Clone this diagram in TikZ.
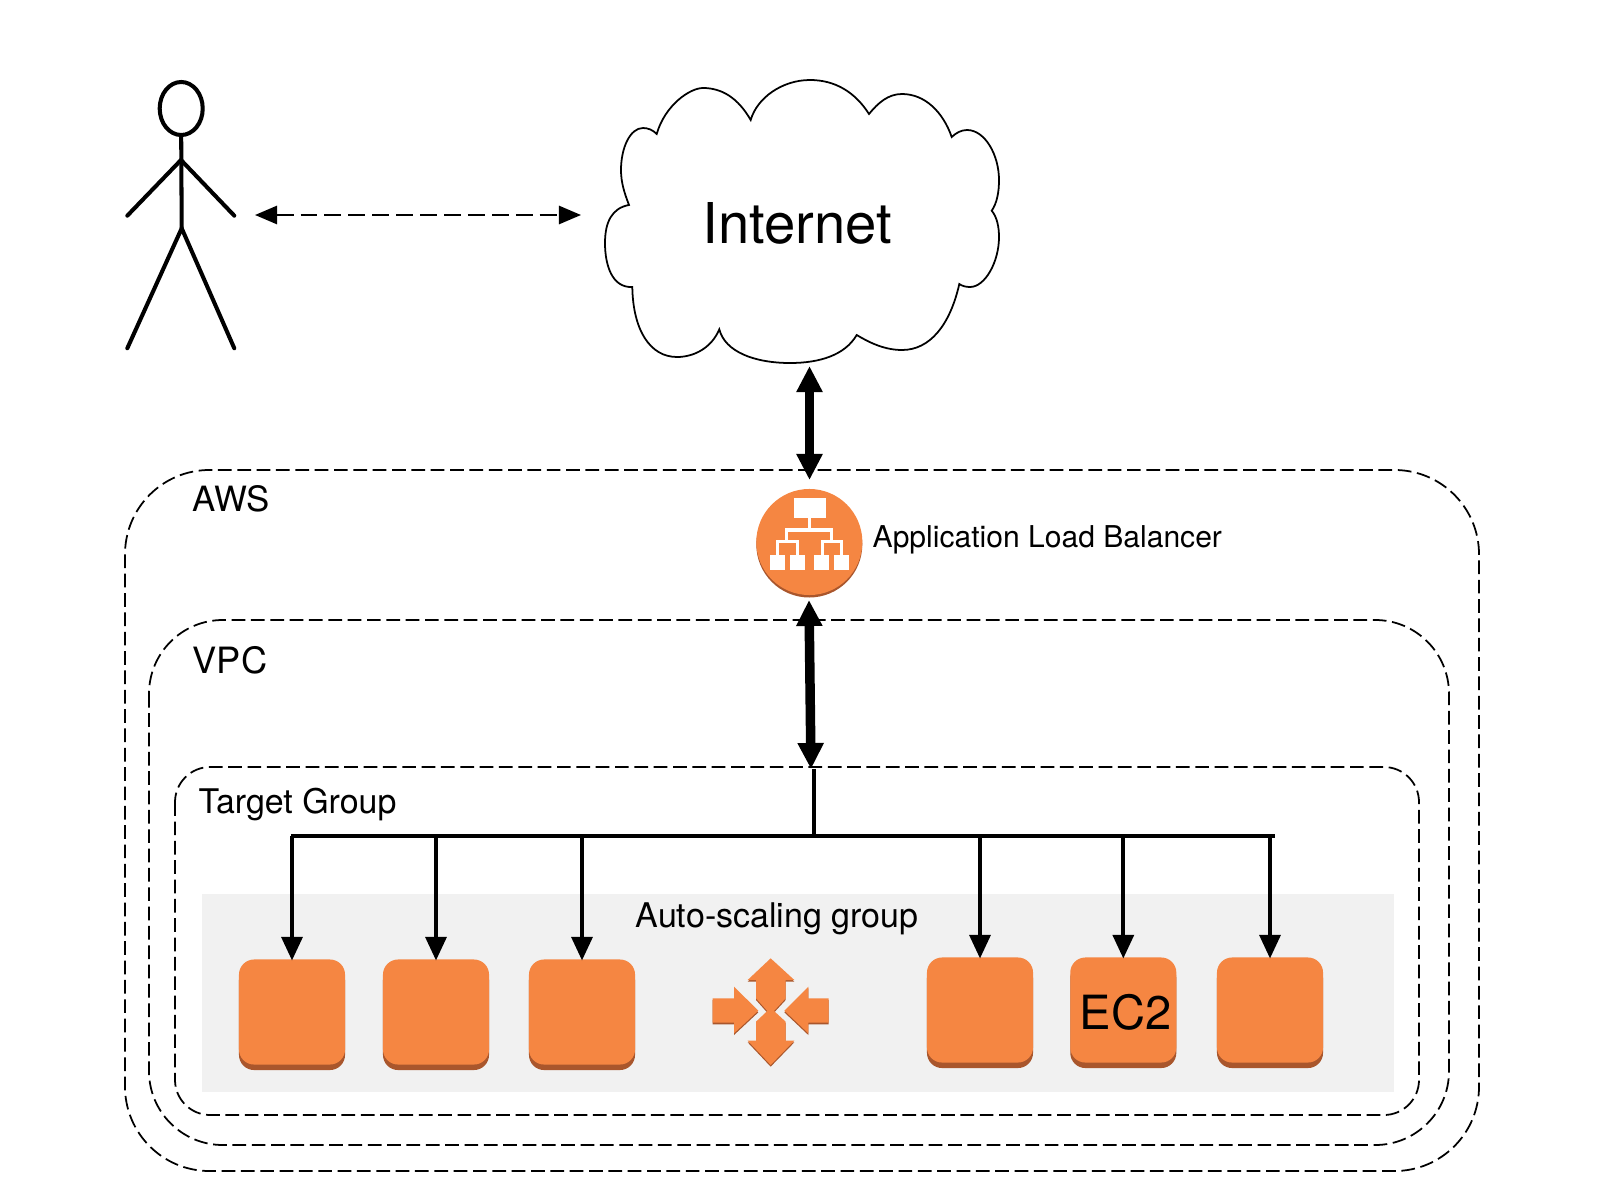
\documentclass[tikz,border=0pt]{standalone}
\usepackage{fontspec}
\setmainfont{TeX Gyre Heros}
\usetikzlibrary{arrows.meta,shadows,shapes.geometric}

\definecolor{ec2_orange}{HTML}{F58642}
\definecolor{ec2_dark}{HTML}{A9562C}
\definecolor{asg_grey}{HTML}{F1F1F1}

\newcommand{\asgarrows}{
  (242,55) -- (313,120) -- (287,120) -- (287,175) -- (252,213) -- (232,213) -- (198,175) -- (198,120) -- (173,120) -- cycle
  (242,375) -- (313,302) -- (287,302) -- (287,245) -- (252,213) -- (232,213) -- (198,245) -- (198,302) -- (173,302) -- cycle
  (68,175) -- (132,175) -- (132,140) -- (205,212) -- (132,280) -- (132,248) -- (68,248) -- cycle
  (416,175) -- (355,175) -- (355,140) -- (283,212) -- (355,280) -- (355,248) -- (416,248) -- cycle
}

\begin{document}
\begin{tikzpicture}[x=0.01cm, y=-0.01cm]
        \tikzstyle{dash_box}  = [draw = black, line width=0.5pt, dash pattern=on 3.9pt off 1.6pt]
        \tikzstyle{ec2_box}   = [shape = rectangle, rounded corners=4.3pt, fill = ec2_orange, minimum width=1.06cm, minimum height=1.05cm, inner sep=0pt, general shadow={fill=ec2_dark, shadow yshift=-0.055cm, shadow xshift=0cm}]
        \tikzstyle{big_arrow} = [line width=2.7pt, {Triangle[length=7.4pt, width=7pt]}-{Triangle[length=7.4pt, width=7pt]}]
        \tikzstyle{add_arrow} = [line width=1.1pt, shorten >=-0.5pt, -{Triangle[length=6.7pt, width=5.9pt]}]
        \tikzstyle{person}    = [line width=1.15pt, line cap=round]
        \tikzstyle{label_txt} = [inner sep=0pt, anchor=base west, font=\fontsize{9.9pt}{11pt}\selectfont]

        \useasboundingbox (0,0) rectangle (1600,1200);

        % outer boxes
        \draw[dash_box, rounded corners=24pt] (125,470) rectangle (1479,1171);
        \draw[dash_box, rounded corners=21pt] (149,620) rectangle (1449,1145);
        \draw[dash_box, rounded corners=10pt] (175,767) rectangle (1419,1115);
        \fill[asg_grey] (202,894) rectangle (1394,1092);

        \node[label_txt] at (192,511) (aws_txt) {AWS};
        \node[label_txt, font=\fontsize{10.3pt}{12pt}\selectfont] at (192,673) (vpc_txt) {VPC};
        \node[label_txt, font=\fontsize{9.65pt}{11pt}\selectfont] at (198,813) (tg_txt) {Target Group};
        \node[label_txt, font=\fontsize{9.67pt}{11pt}\selectfont] at (635,927) (asg_txt) {Auto-scaling group};
        \node[label_txt, font=\fontsize{8.55pt}{10pt}\selectfont] at (872,547) (alb_txt) {Application Load Balancer};

        % person
        \node[draw, ellipse, fill=white, line width=1.15pt, minimum width=0.43cm, minimum height=0.53cm, inner sep=0pt, drop shadow={opacity=0.2, shadow xshift=0.02cm, shadow yshift=-0.015cm}] at (181.2,108.5) (head) {};
        \coordinate (neck) at (181,160);
        \coordinate (hip) at (181.7,228.3);
        \draw[person] (head.south) -- (hip);
        \draw[person] (127.3,215.7) -- (neck) -- (234.3,215.7);
        \draw[person] (127.3,348.3) -- (hip) -- (234.3,348.3);

        % cloud
        \draw[line width=0.5pt, fill=white]
          (656.7,134) .. controls (665,105) and (690,88) .. (703,88) .. controls (722,88) and (738,98) .. (750.7,120)
          .. controls (757,98) and (782,80) .. (810,80) .. controls (835,80) and (855,92) .. (869,114)
          .. controls (878,103) and (888,94) .. (902,94) .. controls (925,94) and (943,112) .. (951.7,137)
          .. controls (956,133) and (961,130) .. (967,130) .. controls (985,130) and (999,155) .. (999,180) .. controls (999,192) and (997,203) .. (991.7,210.7)
          .. controls (997,217) and (999,227) .. (999,237) .. controls (999,262) and (985,287) .. (970,287) .. controls (966,287) and (962,286) .. (959.3,284)
          .. controls (950,325) and (930,350) .. (902,350) .. controls (885,350) and (870,343) .. (856.7,335)
          .. controls (845,355) and (820,363) .. (790,363) .. controls (755,363) and (725,352) .. (719.3,329.3)
          .. controls (712,347) and (695,357) .. (677,357) .. controls (650,357) and (633,330) .. (632.3,287)
          .. controls (612,288) and (605,265) .. (605,243) .. controls (605,222) and (612,208) .. (629,205)
          .. controls (624,192) and (621,182) .. (621,170) .. controls (621,148) and (630,128) .. (643,128) .. controls (648,128) and (653,130) .. (656.7,134)
          -- cycle;
        \node[label_txt, font=\fontsize{16pt}{18pt}\selectfont] at (702,243) (internet) {Internet};

        % load balancer
        \fill[ec2_dark] (809.3,544.5) circle (53);
        \node[circle, fill=ec2_orange, minimum size=1.06cm, inner sep=0pt] at (809.3,542) (alb) {};
        \begin{scope}[shift={(720,470)}, xscale=0.3333, yscale=0.3333]
          \draw[white, line width=0.9pt]
            (268,145) -- (268,180)
            (200,212) -- (200,180) -- (335,180) -- (335,212)
            (173,255) -- (173,215) -- (232,215) -- (232,255)
            (308,255) -- (308,215) -- (365,215) -- (365,255)
          ;
          \fill[white] (222,85) rectangle (318,145);
          \foreach \lx in {150,210,282,342}
            \fill[white] (\lx,255) rectangle (\lx+46,300);
        \end{scope}

        % auto scaling icon
        \begin{scope}[shift={(690,940)}, xscale=0.3333, yscale=0.3333]
          \fill[ec2_dark] [yshift=-0.05cm] \asgarrows;
          \fill[ec2_orange] \asgarrows;
        \end{scope}

        % instances
        \node[ec2_box] at (292,1012) (i1) {};
        \node[ec2_box] at (436,1012) (i2) {};
        \node[ec2_box] at (582,1012) (i3) {};
        \node[ec2_box] at (980,1010) (i4) {};
        \node[ec2_box] at (1123.3,1010) (i5) {};
        \node[ec2_box] at (1270,1010) (i6) {};
        \node[label_txt, font=\fontsize{13.4pt}{15pt}\selectfont] at (1079,1029) (ec2_txt) {EC2};

        % connectors
        \coordinate (user_r) at (255,215);
        \coordinate (net_l) at (581,215);
        \draw[{Triangle[length=6.3pt, width=5.2pt]}-{Triangle[length=6.3pt, width=5.2pt]}, line width=0.6pt, dash pattern=on 4.8pt off 2pt]
          (user_r) -- (net_l);

        \coordinate (net_b) at (809.5,366);
        \coordinate (alb_t) at (809.5,480);
        \coordinate (alb_b) at (809,600);
        \coordinate (tg_t)  at (811,769);
        \draw[big_arrow] (alb_t) -- (net_b);
        \draw[big_arrow] (alb_b) -- (tg_t);

        \coordinate (bus_m) at (814,836);
        \coordinate (bus_l) at (292.5,836);
        \coordinate (bus_r) at (1273,836);
        \draw[line width=1.15pt] (tg_t -| bus_m) -- (bus_m);
        \draw[line width=1.1pt, line cap=rect] (bus_l) -- (bus_r);

        \foreach \n in {i1,i2,i3,i4,i5,i6}
          \draw[add_arrow] (\n.north |- bus_m) -- (\n.north);
      \end{tikzpicture}
\end{document}
